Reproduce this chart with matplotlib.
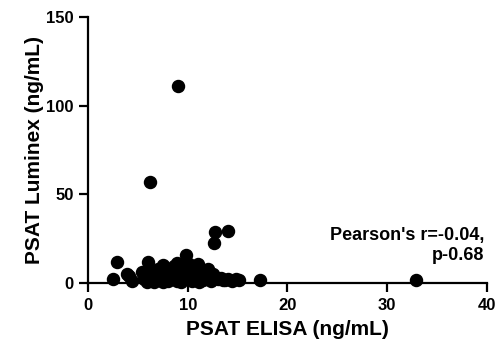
import matplotlib
matplotlib.use("Agg")
import matplotlib.pyplot as plt

# PSAT ELISA vs PSAT Luminex (ng/mL)
elisa = [2.5, 2.9, 3.9, 4.4, 4.1, 5.4, 5.9, 6.0, 6.2, 5.6, 6.5, 6.8, 7.0, 7.2, 7.4,
         7.6, 7.8, 8.0, 8.2, 8.4, 8.6, 8.8, 9.0, 9.2, 9.4, 9.6, 9.8, 10.0, 10.2, 10.4,
         10.6, 10.8, 11.0, 11.2, 11.5, 11.8, 12.0, 12.3, 12.6, 13.0, 13.3, 13.7, 14.0, 14.4,
         14.8, 15.1, 6.3, 6.9, 7.5, 8.1, 8.7, 9.3, 9.9, 10.5, 11.1, 11.7, 12.2, 7.3, 8.3,
         9.1, 9.7, 10.3, 10.9, 12.5, 13.5, 6.6, 8.9, 9.5, 8.9, 11.0, 7.5, 10.1,
         9.0, 6.2, 12.7, 14.0, 12.6, 17.2, 32.9]
luminex = [2.1, 12.0, 4.9, 1.1, 4.0, 6.4, 0.7, 12.0, 3.0, 2.5, 6.0, 1.5, 8.0, 4.5, 2.0,
           9.0, 5.5, 1.0, 7.5, 3.5, 9.5, 2.0, 6.5, 1.0, 10.0, 4.0, 15.8, 2.5, 8.0, 1.0,
           5.0, 9.0, 2.0, 6.0, 1.5, 3.5, 8.0, 1.0, 4.0, 2.5, 3.0, 1.5, 2.5, 1.0,
           2.0, 1.5, 7.0, 3.0, 0.5, 4.0, 7.0, 0.5, 5.0, 3.0, 0.5, 4.5, 2.0, 1.5, 2.0,
           3.0, 8.5, 4.5, 3.5, 5.0, 1.5, 0.8, 1.0, 6.0, 11.5, 10.5, 10.0, 11.0,
           111.0, 57.0, 29.0, 29.5, 22.4, 1.7, 1.5]

plt.rcParams["font.family"] = ["Liberation Sans", "DejaVu Sans"]
plt.rcParams["font.weight"] = "bold"

fig = plt.figure(figsize=(5.02, 3.47), dpi=100)
ax = fig.add_axes([0.1753, 0.1844, 0.7948, 0.7666])
ax.scatter(elisa, luminex, s=75, color="black", zorder=3, clip_on=False)

ax.set_xlim(0, 40)
ax.set_ylim(0, 150)
ax.set_xticks([0, 10, 20, 30, 40])
ax.set_yticks([0, 50, 100, 150])
ax.spines["top"].set_visible(False)
ax.spines["right"].set_visible(False)
for s in ["left", "bottom"]:
    ax.spines[s].set_linewidth(1.6)
ax.tick_params(direction="out", length=6.5, width=1.6, labelsize=12)
ax.tick_params(axis="y", pad=4)
ax.tick_params(axis="x", pad=4)
for lab in ax.get_xticklabels() + ax.get_yticklabels():
    lab.set_fontweight("bold")

ax.set_xlabel("PSAT ELISA (ng/mL)", fontsize=15, fontweight="bold", labelpad=5)
ax.set_ylabel("PSAT Luminex (ng/mL)", fontsize=15, fontweight="bold", labelpad=1)

ax.text(39.7, 21, "Pearson's r=-0.04,\np-0.68", ha="right", va="center",
        fontsize=13, fontweight="bold", linespacing=1.25, multialignment="right")

plt.savefig("out.png", dpi=100)
